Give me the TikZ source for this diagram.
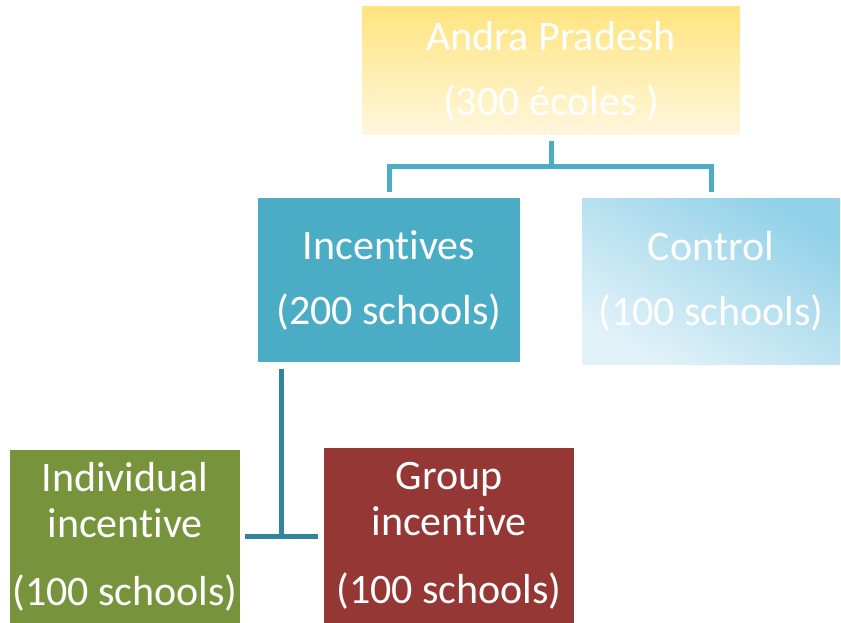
\documentclass[tikz,border=0pt]{standalone}
\usepackage{fontspec}
\setmainfont[Ligatures={NoCommon,NoRare,NoContextual},Contextuals=NoAlternate]{Carlito}
\usetikzlibrary{calc}
\definecolor{aqua}{HTML}{4BACC6}
\definecolor{aquadark}{HTML}{31849B}
\definecolor{olive}{HTML}{77933C}
\definecolor{brick}{HTML}{953735}
\definecolor{goldtop}{HTML}{FFE47F}
\definecolor{goldbot}{HTML}{FFF7DE}
\definecolor{skydark}{HTML}{92D1E8}
\definecolor{skylight}{HTML}{E2F2F9}
\begin{document}
\begin{tikzpicture}[x=1pt,y=-1pt,
  box/.style={rectangle, inner sep=0pt, align=center, text=white,
    font=\fontsize{42}{46}\selectfont},
  link/.style={line width=5pt, draw=aqua},
  sublink/.style={line width=5pt, draw=aquadark}]
\useasboundingbox (0,0) rectangle (841,623);

% boxes
\node[box, minimum width=378pt, minimum height=128pt,
  top color=goldtop, bottom color=goldbot] (top) at (551,71)
  {Andra Pradesh\\[19pt](300 écoles )};
\node[box, minimum width=262pt, minimum height=164pt, fill=aqua] (inc) at (389,280)
  {Incentives\\[19pt](200 schools)};
\node[box, minimum width=258pt, minimum height=166pt,
  top color=skydark, bottom color=skylight, shading angle=-30] (ctl) at (711,281)
  {Control\\[19pt](100 schools)};
\node[box, minimum width=230pt, minimum height=173pt, fill=olive] (ind) at (125,536.5)
  {Individual\\incentive\\[22pt](100 schools)};
\node[box, minimum width=250pt, minimum height=175pt, fill=brick] (grp) at (449,535.5)
  {Group\\incentive\\[22pt](100 schools)};

% connectors
\coordinate (j1) at (551,167);
\draw[link] ($(top.south)+(0,6)$) -- (j1);
\draw[link] ($(inc.north)+(0,-6)$) |- (j1) -| ($(ctl.north)+(0,-6)$);
\coordinate (j2) at (281,536);
\draw[sublink] ($(inc.south -| j2)+(0,7)$) -- (j2);
\draw[sublink] ($(ind.east |- j2)+(5,0)$) -- ($(grp.west |- j2)+(-6,0)$);
\end{tikzpicture}
\end{document}
